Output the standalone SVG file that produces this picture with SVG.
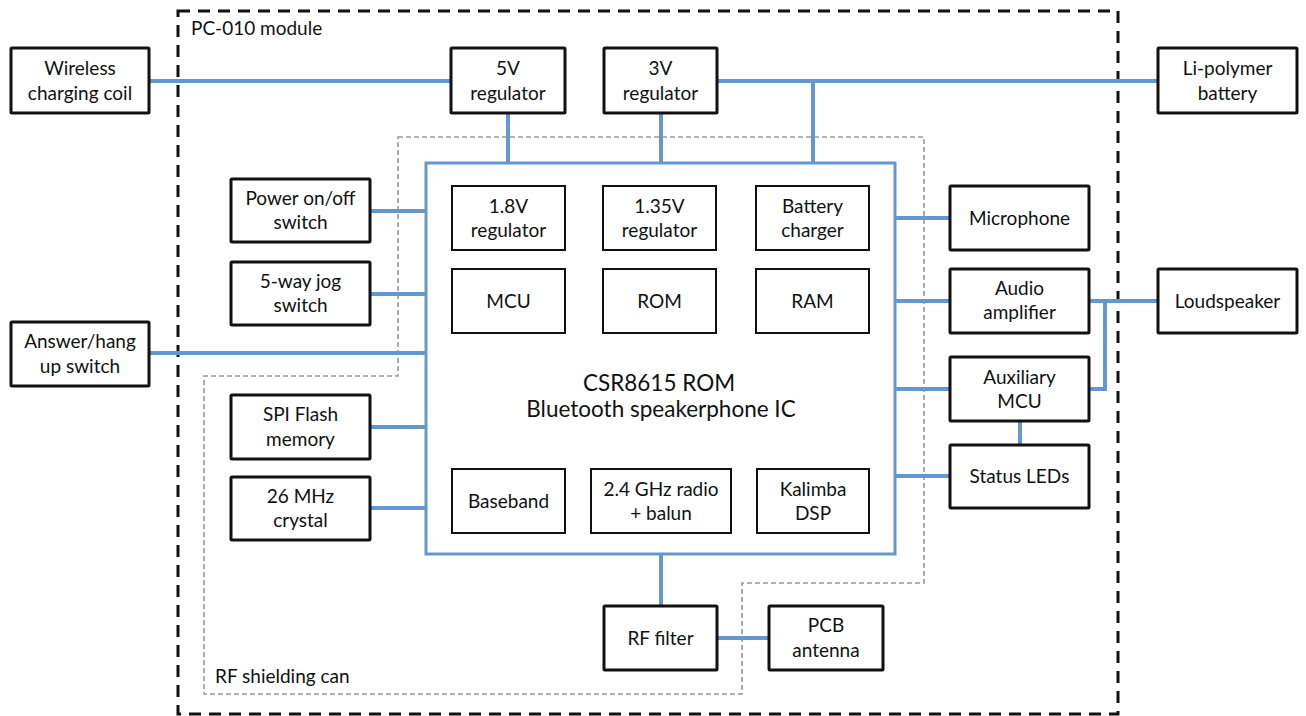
<svg xmlns="http://www.w3.org/2000/svg" width="1306" height="716" viewBox="0 0 1306 716">
<style>
text{font-family:Lato,"Open Sans","Liberation Sans",sans-serif;font-size:19px;fill:#111;text-anchor:middle}
.lbl{text-anchor:start}
.title{font-size:22.5px}
.box{fill:#fff;stroke:#111;stroke-width:3}
.inner{fill:#fff;stroke:#111;stroke-width:2}
.ic{fill:none;stroke:#6497CD;stroke-width:3}
.wire{fill:none;stroke:#6497CD;stroke-width:4}
</style>
<rect width="1306" height="716" fill="#fff"/>
<g id="pc010-module">
<rect x="178" y="11" width="940" height="703" fill="none" stroke="#111" stroke-width="3" stroke-dasharray="12 8"/>
<text class="lbl" x="191" y="35">PC-010 module</text>
</g>
<g id="rf-shielding-can">
<path d="M398,137 H924 V583 H742 V694 H204 V376 H398 Z" fill="none" stroke="#999" stroke-width="1.6" stroke-dasharray="5 3"/>
<text class="lbl" x="215" y="683">RF shielding can</text>
</g>
<g id="connectors">
<path class="wire" d="M149,81 H451"/>
<path class="wire" d="M717,81 H1158"/>
<path class="wire" d="M508,113 V163"/>
<path class="wire" d="M661,113 V163"/>
<path class="wire" d="M813,81 V163"/>
<path class="wire" d="M370,211 H426"/>
<path class="wire" d="M370,294 H426"/>
<path class="wire" d="M149,353 H426"/>
<path class="wire" d="M370,427 H426"/>
<path class="wire" d="M370,508 H426"/>
<path class="wire" d="M895,218 H950"/>
<path class="wire" d="M895,301 H950"/>
<path class="wire" d="M895,389 H950"/>
<path class="wire" d="M895,476 H950"/>
<path class="wire" d="M1089,301 H1158"/>
<path class="wire" d="M1105,301 V389 H1089"/>
<path class="wire" d="M1020,421 V445"/>
<path class="wire" d="M661,554 V606"/>
<path class="wire" d="M717,638 H769"/>
</g>
<g id="csr8615">
<rect class="ic" x="426" y="163" width="469" height="391"/>
<text class="title" x="659" y="391">CSR8615 ROM</text>
<text class="title" x="661" y="417">Bluetooth speakerphone IC</text>
</g>
<g id="reg-18v"><rect class="inner" x="452" y="186" width="113" height="64"/><text x="508.5" y="213">1.8V</text><text x="508.5" y="237">regulator</text></g>
<g id="reg-135v"><rect class="inner" x="603" y="186" width="113" height="64"/><text x="659.5" y="213">1.35V</text><text x="659.5" y="237">regulator</text></g>
<g id="battery-charger"><rect class="inner" x="756" y="186" width="113" height="64"/><text x="812.5" y="213">Battery</text><text x="812.5" y="237">charger</text></g>
<g id="mcu"><rect class="inner" x="452" y="269" width="113" height="64"/><text x="508.5" y="308">MCU</text></g>
<g id="rom"><rect class="inner" x="603" y="269" width="113" height="64"/><text x="659.5" y="308">ROM</text></g>
<g id="ram"><rect class="inner" x="756" y="269" width="113" height="64"/><text x="812.5" y="308">RAM</text></g>
<g id="baseband"><rect class="inner" x="452" y="469" width="113" height="64"/><text x="508.5" y="508">Baseband</text></g>
<g id="radio"><rect class="inner" x="591" y="469" width="140" height="64"/><text x="661" y="496">2.4 GHz radio</text><text x="661" y="520">+ balun</text></g>
<g id="kalimba"><rect class="inner" x="757" y="469" width="112" height="64"/><text x="813" y="496">Kalimba</text><text x="813" y="520">DSP</text></g>
<g id="wireless-coil"><rect class="box" x="11" y="48" width="138" height="65" rx="1"/><text x="80" y="75">Wireless</text><text x="80" y="100">charging coil</text></g>
<g id="reg-5v"><rect class="box" x="451" y="48" width="114" height="65" rx="1"/><text x="508" y="75">5V</text><text x="508" y="100">regulator</text></g>
<g id="reg-3v"><rect class="box" x="604" y="48" width="113" height="65" rx="1"/><text x="660.5" y="75">3V</text><text x="660.5" y="100">regulator</text></g>
<g id="battery"><rect class="box" x="1158" y="48" width="139" height="65" rx="1"/><text x="1227.5" y="75">Li-polymer</text><text x="1227.5" y="100">battery</text></g>
<g id="power-switch"><rect class="box" x="231" y="179" width="139" height="63" rx="1"/><text x="300.5" y="205">Power on/off</text><text x="300.5" y="229">switch</text></g>
<g id="jog-switch"><rect class="box" x="231" y="262" width="139" height="63" rx="1"/><text x="300.5" y="288">5-way jog</text><text x="300.5" y="312">switch</text></g>
<g id="answer-switch"><rect class="box" x="11" y="322" width="138" height="64" rx="1"/><text x="80" y="348">Answer/hang</text><text x="80" y="373">up switch</text></g>
<g id="spi-flash"><rect class="box" x="231" y="395" width="139" height="64" rx="1"/><text x="300.5" y="421">SPI Flash</text><text x="300.5" y="446">memory</text></g>
<g id="crystal"><rect class="box" x="231" y="477" width="139" height="63" rx="1"/><text x="300.5" y="503">26 MHz</text><text x="300.5" y="527">crystal</text></g>
<g id="microphone"><rect class="box" x="950" y="186" width="139" height="64" rx="1"/><text x="1019.5" y="225">Microphone</text></g>
<g id="audio-amp"><rect class="box" x="950" y="269" width="139" height="64" rx="1"/><text x="1019.5" y="295">Audio</text><text x="1019.5" y="319">amplifier</text></g>
<g id="aux-mcu"><rect class="box" x="950" y="357" width="139" height="64" rx="1"/><text x="1019.5" y="384">Auxiliary</text><text x="1019.5" y="408">MCU</text></g>
<g id="status-leds"><rect class="box" x="950" y="445" width="139" height="63" rx="1"/><text x="1019.5" y="483">Status LEDs</text></g>
<g id="loudspeaker"><rect class="box" x="1158" y="269" width="139" height="64" rx="1"/><text x="1227.5" y="308">Loudspeaker</text></g>
<g id="rf-filter"><rect class="box" x="604" y="606" width="113" height="64" rx="1"/><text x="660.5" y="645">RF filter</text></g>
<g id="pcb-antenna"><rect class="box" x="769" y="606" width="114" height="64" rx="1"/><text x="826" y="632">PCB</text><text x="826" y="657">antenna</text></g>
</svg>
